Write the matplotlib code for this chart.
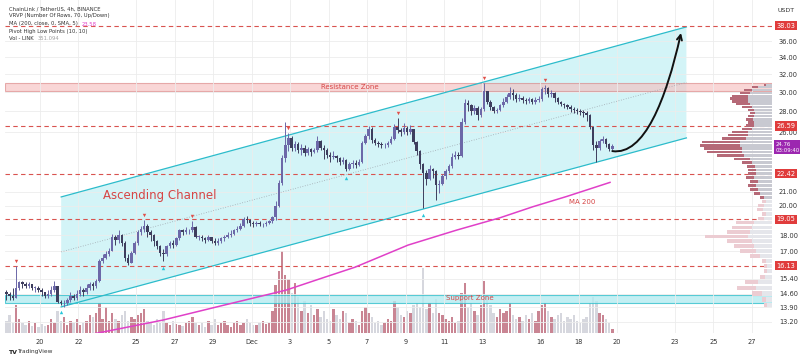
import matplotlib.pyplot as plt
import numpy as np
from matplotlib.path import Path
from matplotlib.patches import FancyArrowPatch, Polygon
from matplotlib.ticker import FixedLocator, FormatStrFormatter, NullLocator
from matplotlib.transforms import blended_transform_factory, offset_copy

plt.rcParams['font.family'] = ['DejaVu Sans']

# LINK/USDT 4h candles, one row per day (6 candles)
closes = [
    14.6, 14.5, 14.4, 14.9, 15.2, 15.1,
    15.0, 15.1, 14.9, 14.9, 14.8, 14.7,
    14.5, 14.6, 14.8, 15.0, 14.2, 14.1,
    14.1, 14.3, 14.5, 14.4, 14.6, 14.8,
    14.7, 14.9, 15.1, 15.0, 15.3, 16.4,
    16.6, 16.8, 17.0, 17.9, 17.7, 18.0,
    17.5, 16.6, 16.3, 16.9, 17.5, 18.2,
    18.4, 18.6, 18.2, 18.0, 17.6, 17.3,
    16.9, 16.8, 17.3, 17.5, 17.4, 17.8,
    18.3, 18.2, 18.3, 18.3, 18.5, 17.9,
    17.9, 17.8, 17.7, 17.9, 17.6, 17.5,
    17.6, 17.8, 17.9, 18.0, 18.1, 18.3,
    18.4, 18.6, 19.1, 19.0, 18.8, 18.7,
    18.8, 18.7, 18.7, 18.8, 18.9, 19.2,
    20.0, 21.7, 23.7, 24.8, 25.5, 24.6,
    24.9, 24.4, 24.6, 24.1, 24.5, 24.2,
    24.4, 25.2, 24.6, 24.4, 24.0, 23.8,
    23.9, 23.7, 23.4, 23.5, 22.8, 23.2,
    23.3, 23.1, 23.4, 25.0, 25.6, 26.3,
    25.3, 25.0, 24.9, 24.8, 24.8, 25.0,
    25.4, 26.5, 26.2, 26.0, 26.4, 26.0,
    26.3, 25.1, 24.3, 23.2, 22.5, 22.0,
    22.8, 22.6, 21.5, 21.6, 22.2, 22.6,
    23.0, 23.8, 24.0, 23.9, 27.0, 28.9,
    28.6, 28.0, 28.3, 27.6, 28.2, 30.1,
    29.0, 28.4, 28.0, 28.1, 28.6, 29.0,
    29.5, 29.9, 29.7, 29.3, 29.4, 29.2,
    29.1, 29.3, 29.0, 29.2, 29.3, 30.3,
    30.4, 29.8, 29.9, 29.4, 29.0, 28.7,
    28.6, 28.4, 28.2, 28.1, 28.0, 27.9,
    27.8, 27.6, 26.5, 24.8, 24.6, 25.2,
    25.4, 24.9, 24.5, 24.76,
]
highs = [
    14.8, 14.7, 14.9, 16.1, 15.3, 15.3,
    15.2, 15.2, 15.1, 15.0, 15.0, 14.9,
    14.7, 14.8, 15.0, 15.3, 15.0, 14.3,
    14.3, 14.4, 14.7, 14.6, 14.8, 15.0,
    14.9, 15.1, 15.2, 15.2, 15.4, 16.5,
    16.8, 17.0, 17.2, 18.1, 18.0, 18.3,
    18.1, 17.6, 16.8, 17.0, 17.6, 18.3,
    18.6, 19.0, 18.7, 18.3, 18.1, 17.7,
    17.4, 17.1, 17.4, 17.6, 17.7, 17.9,
    18.4, 18.4, 18.5, 18.4, 18.9, 18.6,
    18.0, 18.0, 17.9, 18.0, 17.9, 17.8,
    17.8, 17.9, 18.0, 18.2, 18.3, 18.4,
    18.6, 18.8, 19.2, 19.3, 19.1, 18.9,
    18.9, 18.9, 18.8, 18.9, 19.0, 19.3,
    20.3, 21.9, 24.0, 27.0, 25.9, 25.6,
    25.2, 25.1, 24.9, 24.8, 24.7, 24.6,
    24.6, 25.6, 25.3, 24.8, 24.6, 24.2,
    24.3, 24.0, 23.8, 23.8, 23.6, 23.4,
    23.5, 23.5, 23.6, 25.2, 25.8, 26.6,
    26.5, 25.5, 25.2, 25.1, 25.0, 25.2,
    25.6, 26.8, 27.3, 26.4, 26.9, 26.6,
    26.7, 26.3, 25.2, 24.4, 23.3, 22.7,
    23.1, 22.9, 22.7, 21.9, 22.4, 22.8,
    23.2, 24.1, 24.3, 24.2, 27.3, 29.3,
    29.2, 28.8, 28.6, 28.5, 28.4, 31.0,
    30.0, 29.2, 28.5, 28.3, 28.8, 29.4,
    29.8, 30.5, 30.3, 29.9, 29.8, 29.6,
    29.4, 29.5, 29.4, 29.5, 29.6, 30.5,
    30.8, 30.6, 30.2, 30.0, 29.5, 29.1,
    28.9, 28.8, 28.6, 28.4, 28.3, 28.2,
    28.1, 28.0, 27.7, 26.6, 25.2, 25.4,
    25.6, 25.5, 25.0, 24.9,
]
lows = [
    14.3, 14.3, 14.3, 14.4, 14.8, 14.9,
    14.9, 14.9, 14.8, 14.7, 14.7, 14.5,
    14.4, 14.4, 14.5, 14.7, 14.1, 14.0,
    13.9, 14.0, 14.2, 14.3, 14.3, 14.5,
    14.5, 14.6, 14.8, 14.8, 14.9, 15.2,
    16.3, 16.5, 16.7, 17.0, 17.4, 17.5,
    17.3, 16.4, 16.2, 16.3, 16.8, 17.4,
    18.0, 18.2, 17.9, 17.6, 17.3, 17.1,
    16.7, 16.4, 16.7, 17.2, 17.2, 17.3,
    17.7, 18.0, 18.1, 18.1, 18.2, 17.8,
    17.7, 17.6, 17.5, 17.6, 17.5, 17.4,
    17.4, 17.5, 17.6, 17.8, 17.9, 18.0,
    18.2, 18.3, 18.5, 18.8, 18.6, 18.5,
    18.6, 18.6, 18.5, 18.6, 18.7, 18.8,
    19.0, 19.9, 21.5, 23.4, 24.3, 24.3,
    24.3, 24.1, 24.0, 23.9, 24.0, 23.9,
    24.1, 24.2, 24.4, 23.6, 23.7, 23.4,
    23.6, 23.4, 23.1, 23.2, 22.6, 22.7,
    22.9, 22.9, 23.0, 23.3, 24.9, 25.4,
    25.0, 24.8, 24.7, 24.6, 24.6, 24.7,
    24.9, 25.3, 25.9, 25.6, 25.8, 25.7,
    25.8, 24.9, 24.0, 22.8, 19.8, 21.5,
    21.9, 22.1, 20.4, 20.9, 21.5, 22.0,
    22.5, 22.9, 23.6, 23.6, 23.8, 26.8,
    28.0, 27.6, 27.7, 27.2, 27.4, 28.0,
    28.8, 28.1, 27.8, 27.8, 28.0, 28.4,
    28.9, 29.3, 29.2, 29.0, 29.1, 28.9,
    28.7, 28.9, 28.7, 28.8, 29.0, 29.1,
    29.8, 29.5, 29.5, 29.0, 28.8, 28.5,
    28.3, 28.2, 27.9, 27.8, 27.7, 27.6,
    27.4, 27.1, 26.3, 24.4, 23.4, 24.4,
    25.0, 24.7, 24.3, 24.4,
]
volumes = [
    12, 18, 10, 28, 14, 10,
    8, 12, 7, 10, 6, 9,
    7, 8, 14, 10, 22, 12,
    16, 8, 12, 10, 14, 8,
    10, 12, 18, 16, 20, 30,
    14, 26, 12, 20, 14, 12,
    18, 22, 12, 16, 14, 18,
    20, 24, 12, 10, 8, 14,
    10, 22, 10, 8, 12, 9,
    8, 7, 10, 12, 16, 10,
    8, 10, 6, 12, 8, 14,
    8, 10, 12, 8, 6, 10,
    12, 8, 10, 14, 10, 8,
    8, 10, 12, 9, 10, 22,
    48, 62, 82, 58, 54, 40,
    50, 36, 22, 32, 20, 28,
    18, 24, 16, 22, 14, 12,
    24, 18, 14, 22, 20, 10,
    14, 12, 8, 22, 26, 20,
    16, 10, 12, 8, 10, 14,
    12, 32, 26, 18, 16, 22,
    20, 28, 30, 26, 65, 24,
    30, 20, 34, 20, 18, 14,
    12, 16, 10, 12, 40, 50,
    26, 30, 22, 18, 28, 52,
    38, 28, 20, 16, 24, 20,
    22, 30, 18, 14, 16, 12,
    18, 14, 20, 12, 22, 28,
    30, 22, 16, 14, 18, 20,
    12, 16, 14, 18, 12, 10,
    14, 16, 30, 36, 32, 20,
    18, 14, 10, 4,
]
first_open = 14.7

# days counted from Nov 20 00:00
day_ticks = [0, 2, 5, 7, 9, 11, 13, 15, 17, 19, 21, 23, 26, 28, 30, 33, 35, 37]
day_labels = ['20', '22', '25', '27', '29', 'Dec', '3', '5', '7', '9', '11',
              '13', '16', '18', '20', '23', '25', '27']
price_ticks = [36, 34, 32, 30, 28, 26, 21, 20, 18, 17, 15.4, 14.6, 13.9, 13.2]
key_levels = [38.03, 26.59, 22.42, 19.05, 16.13]
last_price = 24.76
countdown = '03:09:40'

pivot_high_idx = [3, 43, 58, 88, 122, 149, 168]
pivot_low_idx = [17, 49, 106, 130]

ma_days = [1.6, 2.49, 4.16, 6.39, 9.36, 12.79, 14.55, 16.37, 19.13, 21.67,
           23.91, 25.62, 27.39, 29.63]
ma_vals = [12.3, 12.6, 12.89, 13.29, 13.97, 14.79, 15.4, 16.05, 17.37, 18.33,
           19.15, 19.92, 20.67, 21.73]

channel_days = [1.1, 33.6]
channel_upper = [20.63, 37.86]
channel_lower = [13.93, 25.47]
resistance = (30.1, 31.0)
support = (14.15, 14.55)

# visible range volume profile, rows of 0.3 from 13.9
vp_start = 13.9
vp_step = 0.3
vp_total = [8, 10, 20, 35, 27, 12, 8, 8, 10, 22, 32, 38, 45, 67, 45, 40, 36,
            14, 10, 15, 14, 10, 12, 18, 22, 24, 22, 26, 24, 24, 25, 30, 38,
            55, 65, 68, 72, 70, 50, 44, 40, 30, 26, 24, 26, 24, 22, 24, 30,
            36, 40, 42, 40, 32, 28, 20, 8]
vp_grey = [5, 6, 10, 16, 14, 7, 5, 5, 6, 12, 16, 18, 20, 24, 22, 20, 18,
           8, 6, 9, 8, 6, 8, 12, 14, 16, 14, 18, 16, 16, 17, 20, 22,
           28, 30, 30, 32, 32, 26, 24, 24, 20, 18, 18, 19, 18, 17, 18, 20,
           22, 24, 24, 24, 22, 20, 14, 6]
value_area_low = 20.3

n = len(closes)
t = -1.8333 + np.arange(n) / 6 + 1 / 12
c = np.array(closes)
o = np.array([first_open] + closes[:-1])
h = np.maximum(np.array(highs), np.maximum(o, c))
lo = np.minimum(np.array(lows), np.minimum(o, c))
up = c >= o

fig = plt.figure(figsize=(8, 3.62), dpi=100)
ax = fig.add_axes([5 / 800, 29 / 362, 767 / 800, 333 / 362])
axv = ax.twinx()
ax.set_zorder(2)
axv.set_zorder(1)
ax.patch.set_visible(False)

x0, x1 = -1.82, 38.05
px_per_day = 19.24

# volume
vcol = np.where(up, '#c98593', '#d6d7de')
axv.bar(t, volumes, width=0.125, color=vcol, linewidth=0)
axv.set_ylim(0, 333)
axv.yaxis.set_visible(False)
for s in axv.spines.values():
    s.set_visible(False)

ax.set_yscale('log')
ax.set_xlim(x0, x1)
ax.set_ylim(12.69, 41.68)

# zones and channel
ax.axhspan(*resistance, facecolor='#f5bcbc', alpha=0.6, edgecolor='#d87c7c', lw=0.8, zorder=1.5)
ax.axhspan(*support, facecolor='#b4ebf0', alpha=0.8, edgecolor='#33c0cc', lw=0.8, zorder=1.5)
poly = Polygon([(channel_days[0], channel_upper[0]), (channel_days[1], channel_upper[1]),
                (channel_days[1], channel_lower[1]), (channel_days[0], channel_lower[0])],
               closed=True, facecolor='#b6edf2', alpha=0.6, edgecolor='none', zorder=1)
ax.add_patch(poly)
ax.plot(channel_days, channel_upper, color='#2cbccb', lw=0.9, zorder=2)
ax.plot(channel_days, channel_lower, color='#2cbccb', lw=0.9, zorder=2)
mid = np.sqrt(np.array(channel_upper) * np.array(channel_lower))
ax.plot(channel_days, mid, color='#a0a8b0', lw=0.6, ls=(0, (1, 2)), zorder=2)

for lvl in key_levels:
    ax.axhline(lvl, color='#d9534f', lw=0.8, ls=(0, (4, 3)), zorder=2)

# MA 200
ax.plot(ma_days, ma_vals, color='#e040c8', lw=1.1, zorder=3)

# candles
ccol = np.where(up, '#6c68a8', '#3e3e5e')
ax.vlines(t, lo, h, colors=ccol, lw=0.7, zorder=4)
body_lo = np.minimum(o, c)
body_h = np.maximum(np.abs(c - o), 0.05)
ax.bar(t, body_h, bottom=body_lo, width=0.13, color=ccol, linewidth=0, zorder=5)

# pivot markers
tr_up = offset_copy(ax.transData, fig=fig, y=5, units='dots')
tr_dn = offset_copy(ax.transData, fig=fig, y=-7, units='dots')
ax.scatter(t[pivot_high_idx], h[pivot_high_idx], marker='v', s=6, color='#e0504a',
           transform=tr_up, zorder=6, linewidths=0)
ax.scatter(t[pivot_low_idx], lo[pivot_low_idx], marker='^', s=6, color='#26c6da',
           transform=tr_dn, zorder=6, linewidths=0)

# volume profile anchored at the right edge
for k, (tot, gr) in enumerate(zip(vp_total, vp_grey)):
    y = vp_start + k * vp_step
    in_va = y >= value_area_low
    gcol = '#c8c9d1' if in_va else '#e5e6eb'
    rcol = '#b56977' if in_va else '#ecccd2'
    ax.barh(y, -gr / px_per_day, left=x1, height=vp_step * 0.75, align='edge',
            color=gcol, linewidth=0, zorder=3)
    ax.barh(y, -(tot - gr) / px_per_day, left=x1 - gr / px_per_day, height=vp_step * 0.75,
            align='edge', color=rcol, linewidth=0, zorder=3)

# projected path
verts = [(29.75, 24.3), (31.4, 23.9), (32.54, 29.17), (33.32, 37.05)]
path = Path(verts, [Path.MOVETO, Path.CURVE4, Path.CURVE4, Path.CURVE4])
arrow = FancyArrowPatch(path=path, arrowstyle='->', mutation_scale=9, lw=1.4,
                        color='#111111', transform=ax.transData, zorder=7)
ax.add_patch(arrow)

# annotations
red = '#d64545'
ax.text(6.24, 20.7, 'Ascending Channel', color=red, fontsize=8.5, ha='center', va='center', zorder=8)
ax.text(16.1, 30.55, 'Resistance Zone', color=red, fontsize=5, ha='center', va='center', zorder=8)
ax.text(22.35, 14.36, 'Support Zone', color=red, fontsize=5, ha='center', va='center', zorder=8)
ax.text(28.17, 20.26, 'MA 200', color=red, fontsize=5, ha='center', va='center', zorder=8)

# axes styling
ax.yaxis.tick_right()
ax.yaxis.set_major_locator(FixedLocator(price_ticks))
ax.yaxis.set_minor_locator(NullLocator())
ax.yaxis.set_major_formatter(FormatStrFormatter('%.2f'))
ax.set_xticks(day_ticks, day_labels)
ax.tick_params(axis='both', length=0, labelsize=4.8, colors='#333333')
ax.tick_params(axis='y', pad=5)
ax.tick_params(axis='x', pad=4)
ax.grid(True, color='#ececec', lw=0.6, zorder=0)
for s in ax.spines.values():
    s.set_visible(False)

lbl_tr = blended_transform_factory(ax.transAxes, ax.transData)
for lvl in key_levels:
    ax.text(1.006, lvl, f'{lvl:.2f}', transform=lbl_tr, fontsize=4.8, color='white',
            va='center', ha='left', bbox=dict(facecolor='#e03c3c', edgecolor='none', pad=1.2))
ax.text(1.005, last_price, f'{last_price:.2f}\n{countdown}',
        transform=offset_copy(lbl_tr, fig=fig, y=4, units='dots'), fontsize=3.9,
        color='white', va='top', ha='left', linespacing=1.3,
        bbox=dict(facecolor='#9c27b0', edgecolor='none', pad=1.0))

fig.text(778 / 800, 1 - 10 / 362, 'USDT', fontsize=4.5, color='#333333', va='center')

legend_lines = ['ChainLink / TetherUS, 4h, BINANCE',
                'VRVP (Number Of Rows, 70, Up/Down)',
                'MA (200, close, 0, SMA, 5)',
                'Pivot High Low Points (10, 10)',
                'Vol - LINK']
legend_y = [9, 16, 24, 32, 39]
legend_txt = {}
for txt, yy in zip(legend_lines, legend_y):
    legend_txt[txt[:2]] = fig.text(9 / 800, 1 - yy / 362, txt, fontsize=3.8,
                                   color='#333333', va='center')
ax.annotate('23.58', xy=(1, 0.5), xycoords=legend_txt['MA'], xytext=(3, 0),
            textcoords='offset points', fontsize=3.8, color='#e040c8', va='center')
ax.annotate('351.094', xy=(1, 0.5), xycoords=legend_txt['Vo'], xytext=(3, 0),
            textcoords='offset points', fontsize=3.8, color='#a0a0a0', va='center')

fig.text(8 / 800, 1 - 352 / 362, 'TV', fontsize=4.5, fontweight='bold', color='#222222', va='center')
fig.text(17 / 800, 1 - 352 / 362, 'TradingView', fontsize=4.2, color='#333333', va='center')

fig.savefig('out.png', dpi=100)
